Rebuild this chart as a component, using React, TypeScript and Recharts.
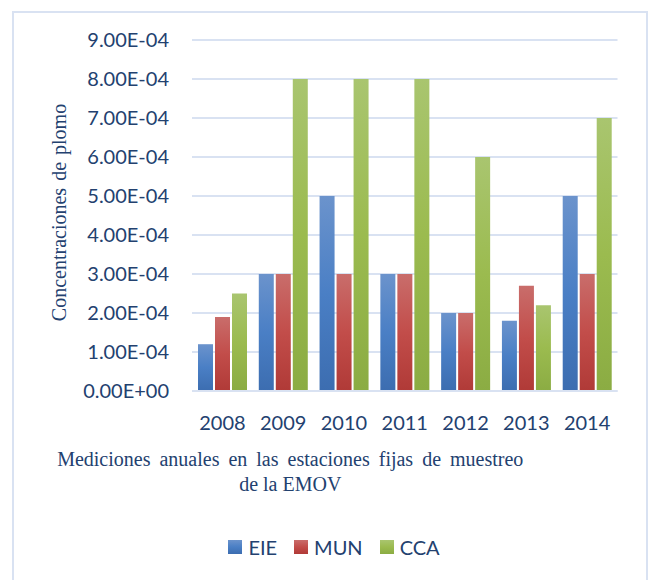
import React from "react";
import { BarChart, Bar, XAxis, YAxis, CartesianGrid, Legend, Label } from "recharts";

const years = ["2008", "2009", "2010", "2011", "2012", "2013", "2014"];
const eie = [1.2e-4, 3.0e-4, 5.0e-4, 3.0e-4, 2.0e-4, 1.8e-4, 5.0e-4];
const mun = [1.9e-4, 3.0e-4, 3.0e-4, 3.0e-4, 2.0e-4, 2.7e-4, 3.0e-4];
const cca = [2.5e-4, 8.0e-4, 8.0e-4, 8.0e-4, 6.0e-4, 2.2e-4, 7.0e-4];
const yTicks = [0, 1e-4, 2e-4, 3e-4, 4e-4, 5e-4, 6e-4, 7e-4, 8e-4, 9e-4];
const yTickLabels = [
  "0.00E+00", "1.00E-04", "2.00E-04", "3.00E-04", "4.00E-04",
  "5.00E-04", "6.00E-04", "7.00E-04", "8.00E-04", "9.00E-04",
];
const seriesNames = ["EIE", "MUN", "CCA"];
const yTitle = "Concentraciones de plomo";
const xTitleLines = ["Mediciones anuales en las estaciones fijas de muestreo", "de la EMOV"];

const data = years.map((y, i) => ({ year: y, EIE: eie[i], MUN: mun[i], CCA: cca[i] }));

const TEXT = "#23416f";
const GRID = "#d9e2f2";
const SANS = "Lato, 'Open Sans', sans-serif";
const SERIF = "'Liberation Serif', 'DejaVu Serif', serif";

const fmt = (v: number) => {
  const idx = yTicks.findIndex((t) => Math.abs(t - v) < 1e-9);
  return idx >= 0 ? yTickLabels[idx] : String(v);
};

const LegendContent = () => (
  <div
    style={{
      display: "flex",
      justifyContent: "center",
      alignItems: "center",
      width: 652,
      paddingLeft: 16,
      boxSizing: "border-box",
      fontFamily: SANS,
      fontSize: 20,
      color: TEXT,
    }}
  >
    {seriesNames.map((n, i) => (
      <div key={n} style={{ display: "flex", alignItems: "center", marginRight: i < seriesNames.length - 1 ? 17 : 0 }}>
        <svg width={14} height={14} style={{ marginRight: 6 }}>
          <rect width={14} height={14} fill={`url(#grad${n})`} />
        </svg>
        <span>{n}</span>
      </div>
    ))}
  </div>
);

export default function App() {
  return (
    <div style={{ position: "absolute", left: 0, top: 0, width: 652, height: 580, background: "#fff", overflow: "hidden" }}>
      <svg width={0} height={0} style={{ position: "absolute" }}>
        <defs>
          <linearGradient id="gradEIE" x1="0" y1="0" x2="0" y2="1">
            <stop offset="0%" stopColor="#6b93cc" />
            <stop offset="50%" stopColor="#4a7fc5" />
            <stop offset="100%" stopColor="#3c6db0" />
          </linearGradient>
          <linearGradient id="gradMUN" x1="0" y1="0" x2="0" y2="1">
            <stop offset="0%" stopColor="#c96d6b" />
            <stop offset="50%" stopColor="#c24d4a" />
            <stop offset="100%" stopColor="#b03a37" />
          </linearGradient>
          <linearGradient id="gradCCA" x1="0" y1="0" x2="0" y2="1">
            <stop offset="0%" stopColor="#a9c56f" />
            <stop offset="50%" stopColor="#9bbb4f" />
            <stop offset="100%" stopColor="#8bac43" />
          </linearGradient>
        </defs>
      </svg>
      <div
        style={{
          position: "absolute",
          left: 12,
          top: 11,
          width: 636,
          height: 620,
          border: `2.5px solid ${GRID}`,
          boxSizing: "border-box",
        }}
      />
      <BarChart
        width={652}
        height={580}
        data={data}
        margin={{ top: 40, right: 34.5, left: 92, bottom: 135 }}
        barSize={15}
        barGap={2}
        style={{ position: "absolute", left: 0, top: 0 }}
      >
        <CartesianGrid vertical={false} stroke={GRID} strokeWidth={2} />
        <XAxis
          dataKey="year"
          axisLine={{ stroke: GRID, strokeWidth: 2 }}
          tickLine={false}
          tickSize={0}
          tickMargin={25}
          height={30}
          tick={{ fill: TEXT, fontSize: 20, fontFamily: SANS }}
        >
          <Label
            content={(props: any) => {
              const vb = props.viewBox || {};
              const cx = vb.x + vb.width / 2 - 114.5;
              return (
                <text fill={TEXT} fontFamily={SERIF} fontSize={20} textAnchor="middle">
                  <tspan x={cx} y={vb.y + 75} wordSpacing={4}>{xTitleLines[0]}</tspan>
                  <tspan x={cx} y={vb.y + 100}>{xTitleLines[1]}</tspan>
                </text>
              );
            }}
          />
        </XAxis>
        <YAxis
          width={100}
          domain={[0, 9e-4]}
          ticks={yTicks}
          tickFormatter={fmt}
          axisLine={false}
          tickLine={false}
          tickSize={0}
          tickMargin={23}
          tick={{ fill: TEXT, fontSize: 20, fontFamily: SANS }}
        >
          <Label
            content={(props: any) => {
              const vb = props.viewBox || {};
              const x = vb.x - 26;
              const y = vb.y + vb.height / 2 - 3;
              return (
                <text
                  x={x}
                  y={y}
                  transform={`rotate(-90 ${x} ${y})`}
                  fill={TEXT}
                  fontFamily={SERIF}
                  fontSize={20}
                  textAnchor="middle"
                  wordSpacing={2}
                >
                  {yTitle}
                </text>
              );
            }}
          />
        </YAxis>
        <Legend
          content={<LegendContent />}
          wrapperStyle={{ position: "absolute", left: 0, top: 535, width: 652 }}
        />
        <Bar dataKey="EIE" name="EIE" fill="url(#gradEIE)" isAnimationActive={false} />
        <Bar dataKey="MUN" name="MUN" fill="url(#gradMUN)" isAnimationActive={false} />
        <Bar dataKey="CCA" name="CCA" fill="url(#gradCCA)" isAnimationActive={false} />
      </BarChart>
    </div>
  );
}
